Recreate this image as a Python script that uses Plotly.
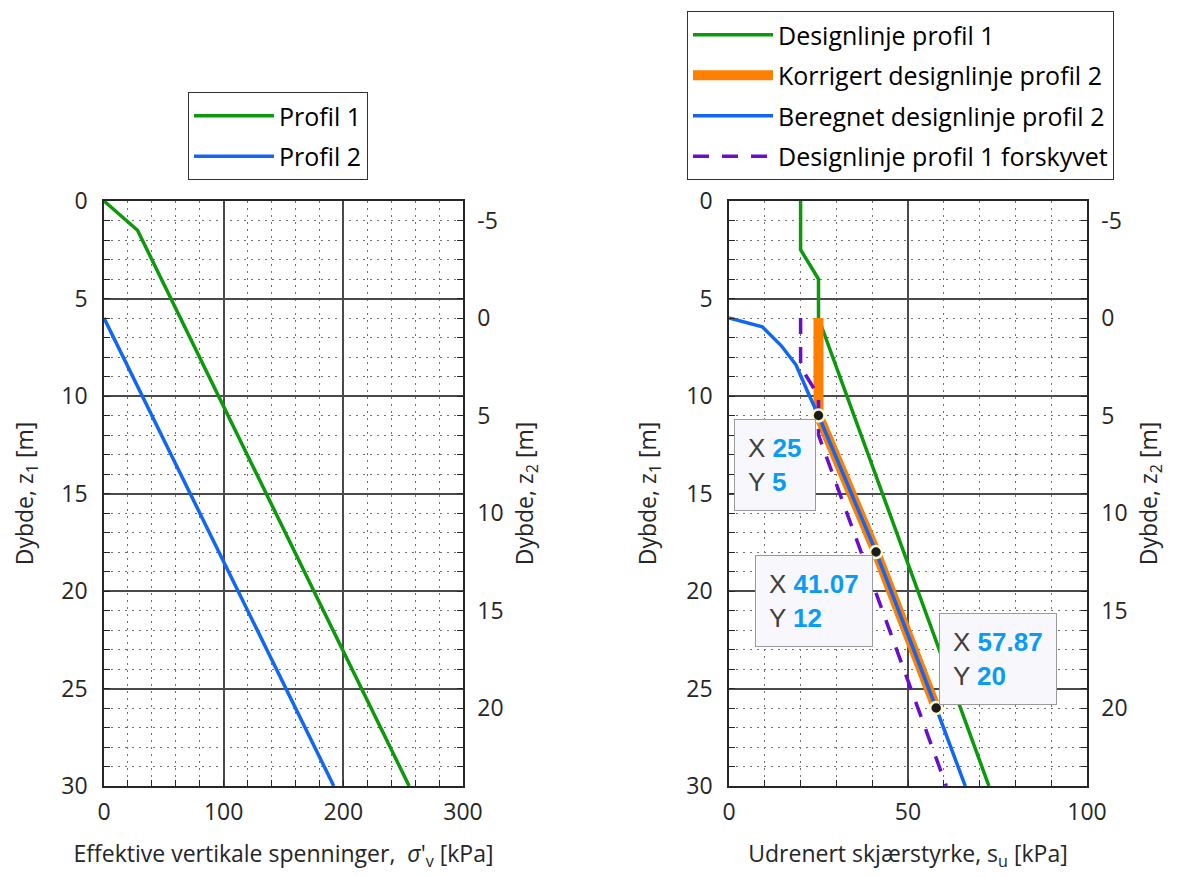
import plotly.graph_objects as go

# ---------------- data ----------------
# Left plot: effective vertical stress vs depth
p1_sigma = [0, 28, 255]
p1_z1 = [0, 1.5, 30]
p2_sigma = [0, 192]
p2_z2 = [0, 24]          # profile 2 depth in its own coordinate z2

# Right plot: undrained shear strength vs depth (z1)
dl1_su = [20, 20, 25, 25, 72.6]
dl1_z = [0, 2.5, 4, 6, 30]
korr_su = [25, 25, 41.07, 57.87]
korr_z = [6, 11, 18, 26]
ber_su = [0, 9.3, 14.5, 18.7, 22.4, 25, 41.07, 57.87, 66.0]
ber_z = [6, 6.45, 7.4, 8.4, 9.96, 11, 18, 26, 30]
fors_su = [20, 20, 25, 25, 60.7]
fors_z = [6, 8.5, 10, 12, 30]

# Data tips (x in kPa, y in z2)
tip_su = [25, 41.07, 57.87]
tip_z2 = [5, 12, 20]

z1_range = [30, 0]
z2_range = [24, -6]
z2_ticks = [-5, 0, 5, 10, 15, 20]
z2_ticklabels = ["-5", "0", "5", "10", "15", "20"]

# ---------------- style ----------------
FONT = "Open Sans"
TXT = "#262626"
GREEN = "#0c990c"
ORANGE = "#ff7f00"
BLUE = "#1166f5"
PURPLE = "#6a0dcf"

fig = go.Figure()

fig.add_trace(go.Scatter(x=p1_sigma, y=p1_z1, mode="lines", name="Profil 1",
                         line=dict(color=GREEN, width=3.5), xaxis="x", yaxis="y",
                         legend="legend", legendgroup="a"))
fig.add_trace(go.Scatter(x=p2_sigma, y=p2_z2, mode="lines", name="Profil 2",
                         line=dict(color=BLUE, width=3.5), xaxis="x", yaxis="y2",
                         legend="legend", legendgroup="b"))

fig.add_trace(go.Scatter(x=dl1_su, y=dl1_z, mode="lines", name="Designlinje profil 1",
                         line=dict(color=GREEN, width=3.5), xaxis="x2", yaxis="y3",
                         legend="legend2", legendgroup="c"))
fig.add_trace(go.Scatter(x=korr_su, y=korr_z, mode="lines", name="Korrigert designlinje profil 2",
                         line=dict(color=ORANGE, width=10), xaxis="x2", yaxis="y3",
                         legend="legend2", legendgroup="d"))
fig.add_trace(go.Scatter(x=ber_su, y=ber_z, mode="lines", name="Beregnet designlinje profil 2",
                         line=dict(color=BLUE, width=3.5), xaxis="x2", yaxis="y3",
                         legend="legend2", legendgroup="e"))
fig.add_trace(go.Scatter(x=fors_su, y=fors_z, mode="lines", name="Designlinje profil 1 forskyvet",
                         line=dict(color=PURPLE, width=3.5, dash="16px,13px"), xaxis="x2", yaxis="y3",
                         legend="legend2", legendgroup="f"))
fig.add_trace(go.Scatter(x=tip_su, y=tip_z2, mode="markers", showlegend=False,
                         marker=dict(size=12, color="#1c1c1c", line=dict(width=2.5, color="#fff9d2")),
                         xaxis="x2", yaxis="y4"))

# data tip boxes
tip_pos = [("right", "top", -3, -3), ("right", "top", -3, -3), ("left", "bottom", 3, 3)]
for xs, zs, (xa, ya, dx, dy) in zip(tip_su, tip_z2, tip_pos):
    txt = (f"<span style='color:#404040'>X</span> <b><span style='color:#0a9cf5'>{xs:g}</span></b><br>"
           f"<span style='color:#404040'>Y</span> <b><span style='color:#0a9cf5'>{zs:g}</span></b>")
    fig.add_annotation(x=xs, y=zs, xref="x2", yref="y4", text=txt, showarrow=False,
                       xanchor=xa, yanchor=ya, xshift=dx, yshift=dy, align="left",
                       font=dict(family="Liberation Sans", size=26, color="#404040"),
                       bgcolor="#f8f8fc", bordercolor="#9a9a9a", borderwidth=1, borderpad=13)

tickfont = dict(family=FONT, size=23, color=TXT)
titlefont = dict(family=FONT, size=23, color=TXT)

def xax(domain, rng, dtick, minor, title, anchor):
    return dict(domain=domain, range=rng, dtick=dtick, anchor=anchor,
                showline=True, linecolor=TXT, linewidth=1.5, mirror=True,
                ticks="inside", ticklen=6, tickcolor=TXT, tickwidth=1,
                showgrid=True, gridcolor="#4a4a4a", gridwidth=1.5, zeroline=False,
                tickfont=tickfont, ticklabelstandoff=5,
                title=dict(text=title, font=titlefont, standoff=20),
                minor=dict(dtick=minor, showgrid=True, griddash="2px,5px", gridcolor="#707070",
                           gridwidth=1, ticks="inside", ticklen=6, tickcolor=TXT),
                automargin=False)

def yax(anchor, title):
    return dict(range=z1_range, dtick=5, anchor=anchor, domain=[0, 1],
                showline=True, linecolor=TXT, linewidth=1.5, mirror=False,
                ticks="inside", ticklen=6, tickcolor=TXT, tickwidth=1,
                showgrid=True, gridcolor="#4a4a4a", gridwidth=1.5, zeroline=False,
                tickfont=tickfont, ticklabelstandoff=10,
                title=dict(text=title, font=titlefont, standoff=23),
                minor=dict(dtick=1, showgrid=True, griddash="2px,5px", gridcolor="#707070",
                           gridwidth=1, ticks="inside", ticklen=6, tickcolor=TXT),
                automargin=False)

def y2ax(overlay, anchor, title):
    return dict(range=z2_range, tickmode="array", tickvals=z2_ticks, ticktext=z2_ticklabels,
                anchor=anchor, overlaying=overlay, side="right",
                showline=True, linecolor=TXT, linewidth=1.5,
                ticks="inside", ticklen=6, tickcolor=TXT, tickwidth=1,
                showgrid=False, zeroline=False, tickfont=tickfont, ticklabelstandoff=8,
                title=dict(text=title, font=titlefont, standoff=14),
                minor=dict(dtick=1, tick0=0, showgrid=False, ticks="inside", ticklen=6, tickcolor=TXT),
                automargin=False)

OFF = 8  # page body margin
W, H = 1178 - OFF, 877 - OFF
ml, mt = 104 - OFF, 201 - OFF
pw, ph = 983, 585
mr = W - ml - pw
mb = H - mt - ph

def px_x(p):
    return (p - OFF - ml) / pw

def px_y(p):
    return (mt + ph - (p - OFF)) / ph

fig.update_layout(
    width=W, height=H,
    margin=dict(l=ml, r=mr, t=mt, b=mb, autoexpand=False),
    paper_bgcolor="white", plot_bgcolor="white",
    font=dict(family=FONT, color=TXT),
    xaxis=xax([0, px_x(463)], [0, 300], 100, 20,
              "Effektive vertikale spenninger,  <i>σ</i>'<sub>v</sub> [kPa]", "y"),
    yaxis=yax("x", "Dybde, z<sub>1</sub> [m]"),
    yaxis2=y2ax("y", "x", "Dybde, z<sub>2</sub> [m]"),
    xaxis2=xax([px_x(729), 1], [0, 100], 50, 10,
               "Udrenert skjærstyrke, s<sub>u</sub> [kPa]", "y3"),
    yaxis3=yax("x2", "Dybde, z<sub>1</sub> [m]"),
    yaxis4=y2ax("y3", "x2", "Dybde, z<sub>2</sub> [m]"),
    legend=dict(x=px_x(188), y=px_y(92), xanchor="left", yanchor="top",
                bgcolor="white", bordercolor="#333333", borderwidth=1,
                font=dict(family=FONT, size=25, color="black"),
                traceorder="grouped", tracegroupgap=5, itemwidth=80),
    legend2=dict(x=px_x(687), y=px_y(11), xanchor="left", yanchor="top",
                 bgcolor="white", bordercolor="#333333", borderwidth=1,
                 font=dict(family=FONT, size=25, color="black"),
                 traceorder="grouped", tracegroupgap=5, itemwidth=80),
    showlegend=True,
)

fig.write_html("out.html")
